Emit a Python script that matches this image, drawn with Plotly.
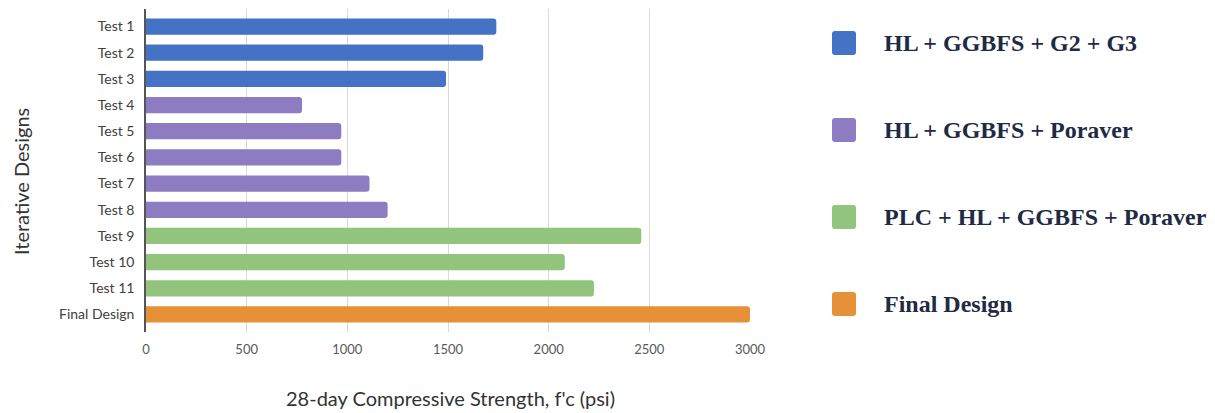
import plotly.graph_objects as go

# Data
designs = ["Test 1", "Test 2", "Test 3", "Test 4", "Test 5", "Test 6",
           "Test 7", "Test 8", "Test 9", "Test 10", "Test 11", "Final Design"]
strength_psi = [1740, 1675, 1490, 775, 970, 970, 1110, 1200, 2460, 2080, 2225, 3000]
mix_group = [0, 0, 0, 1, 1, 1, 1, 1, 2, 2, 2, 3]
group_names = ["HL + GGBFS + G2 + G3", "HL + GGBFS + Poraver",
               "PLC + HL + GGBFS + Poraver", "Final Design"]
group_colors = ["#4472C4", "#8E7CC3", "#93C47D", "#E69138"]
x_ticks = [0, 500, 1000, 1500, 2000, 2500, 3000]

W, H = 1215, 413
L, R, T, B = 146, 465, 9, 81
plot_w = W - L - R
plot_h = H - T - B


def px_x(px):
    return (px - L) / plot_w


def px_y(py):
    return (H - B - py) / plot_h


fig = go.Figure()
fig.add_trace(go.Bar(
    y=designs,
    x=strength_psi,
    orientation="h",
    width=0.62,
    marker=dict(color=[group_colors[g] for g in mix_group],
                line=dict(width=0)),
    showlegend=False,
))

# Legend drawn as rounded swatches with serif labels
swatch = 24
for i, (name, color) in enumerate(zip(group_names, group_colors)):
    cy = 43 + i * 87
    x0, x1 = 832, 832 + swatch
    y0, y1 = cy - swatch / 2, cy + swatch / 2
    r = 3
    pts = [("M", x0 + r, y0), ("L", x1 - r, y0), ("Q", x1, y0), ("", x1, y0 + r),
           ("L", x1, y1 - r), ("Q", x1, y1), ("", x1 - r, y1), ("L", x0 + r, y1),
           ("Q", x0, y1), ("", x0, y1 - r), ("L", x0, y0 + r), ("Q", x0, y0),
           ("", x0 + r, y0)]
    path = " ".join(f"{cmd} {px_x(a):.5f},{px_y(b):.5f}".strip() for cmd, a, b in pts) + " Z"
    fig.add_shape(type="path", path=path, xref="paper", yref="paper",
                  fillcolor=color, line=dict(width=0), layer="above")
    fig.add_annotation(x=px_x(882), y=px_y(cy), xref="paper", yref="paper",
                       text=f"<b>{name}</b>", showarrow=False,
                       xanchor="left", yanchor="middle",
                       font=dict(family="Liberation Serif", size=24, color="#1F2A44"))

# Axis titles
fig.add_annotation(x=px_x(450), y=px_y(398), xref="paper", yref="paper",
                   text="28-day Compressive Strength, f'c (psi)", showarrow=False,
                   xanchor="center", yanchor="middle",
                   font=dict(family="Lato", size=20, color="#333333"))
fig.add_annotation(x=px_x(21), y=px_y(182), xref="paper", yref="paper",
                   text="Iterative Designs", showarrow=False, textangle=-90,
                   xanchor="center", yanchor="middle",
                   font=dict(family="Lato", size=20, color="#333333"))

fig.update_layout(
    width=W, height=H,
    margin=dict(l=L, r=R, t=T, b=B),
    paper_bgcolor="white", plot_bgcolor="white",
    barcornerradius=3,
    font=dict(family="Lato"),
    xaxis=dict(range=[0, 3000], tickvals=x_ticks, showgrid=True,
               gridcolor="#D9D9D9", gridwidth=1, zeroline=False,
               showline=False, ticks="", ticklabelstandoff=8,
               tickfont=dict(family="Lato", size=13, color="#595959")),
    yaxis=dict(categoryorder="array", categoryarray=designs,
               range=[11.67, -0.67], showgrid=False, zeroline=False,
               showline=True, linecolor="#555555", linewidth=1.5,
               ticks="", ticklabelstandoff=7,
               tickfont=dict(family="Lato", size=14, color="#404040")),
)

fig.write_html("out.html")
